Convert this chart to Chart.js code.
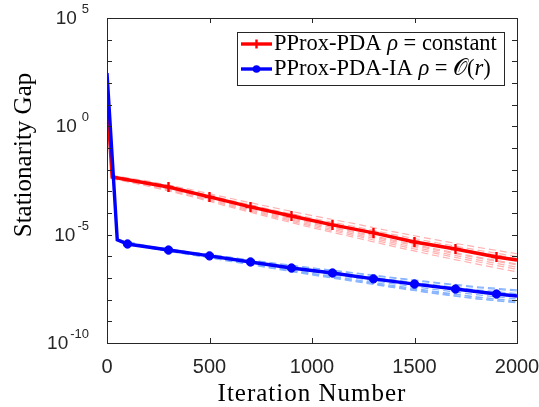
<!DOCTYPE html>
<html>
<head>
<meta charset="utf-8">
<script src="https://cdn.jsdelivr.net/npm/chart.js@4.4.0/dist/chart.umd.min.js"></script>
<style>
  html, body { margin: 0; padding: 0; background: #fff; }
</style>
</head>
<body>
<canvas id="gapChart" width="539" height="407"></canvas>
<script>
// Values, stored as log10 exponents of the stationarity gap
const redIters = [0, 25, 300, 500, 700, 900, 1100, 1300, 1500, 1700, 1900, 2000];
const redMain = [1.35, -2.34, -2.80, -3.26, -3.72, -4.14, -4.55, -4.92, -5.34, -5.66, -6.03, -6.17];
const redMarks = [0, 0, 1, 1, 1, 1, 1, 1, 1, 1, 1, 0];

const blueIters = [0, 50, 100, 300, 500, 700, 900, 1100, 1300, 1500, 1700, 1900, 2000];
const blueMain = [2.46, -5.24, -5.43, -5.71, -5.98, -6.26, -6.54, -6.77, -7.04, -7.28, -7.51, -7.74, -7.83];
const blueMarks = [0, 0, 1, 1, 1, 1, 1, 1, 1, 1, 1, 1, 0];

// faint dashed individual runs
const redRunIters = [20, 200, 400, 600, 800, 1000, 1200, 1400, 1600, 1800, 2000];
const redRuns = [
  [-2.26, -2.53, -2.90, -3.32, -3.73, -4.12, -4.48, -4.87, -5.23, -5.57, -5.88],
  [-2.29, -2.58, -2.97, -3.41, -3.84, -4.24, -4.61, -5.00, -5.36, -5.70, -6.01],
  [-2.36, -2.69, -3.11, -3.59, -4.05, -4.49, -4.89, -5.31, -5.70, -6.06, -6.40],
  [-2.39, -2.73, -3.17, -3.67, -4.15, -4.61, -5.03, -5.46, -5.86, -6.24, -6.60],
  [-2.33, -2.66, -3.08, -3.55, -4.01, -4.45, -4.85, -5.26, -5.65, -6.02, -6.36],
  [-2.41, -2.76, -3.21, -3.72, -4.21, -4.68, -5.11, -5.55, -5.96, -6.35, -6.72],
  [-2.30, -2.61, -3.01, -3.46, -3.90, -4.31, -4.69, -5.08, -5.45, -5.79, -6.10],
  [-2.37, -2.71, -3.14, -3.63, -4.10, -4.55, -4.96, -5.38, -5.78, -6.15, -6.50]
];
const blueRunIters = [50, 200, 400, 600, 800, 1000, 1200, 1400, 1600, 1800, 2000];
const blueRuns = [
  [-5.22, -5.54, -5.80, -6.05, -6.31, -6.55, -6.77, -7.01, -7.23, -7.44, -7.60],
  [-5.25, -5.59, -5.89, -6.19, -6.50, -6.79, -7.06, -7.35, -7.62, -7.87, -8.08],
  [-5.24, -5.58, -5.88, -6.18, -6.49, -6.80, -7.10, -7.42, -7.70, -7.95, -8.15],
  [-5.23, -5.56, -5.83, -6.09, -6.36, -6.61, -6.84, -7.09, -7.32, -7.54, -7.72],
  [-5.26, -5.61, -5.92, -6.23, -6.55, -6.86, -7.15, -7.45, -7.72, -7.96, -8.12],
  [-5.24, -5.57, -5.86, -6.15, -6.45, -6.73, -6.99, -7.27, -7.53, -7.77, -7.97],
  [-5.22, -5.53, -5.79, -6.04, -6.29, -6.53, -6.75, -6.98, -7.20, -7.40, -7.55],
  [-5.25, -5.60, -5.90, -6.21, -6.52, -6.83, -7.12, -7.40, -7.65, -7.88, -8.05]
];

const xTicks = [0, 500, 1000, 1500, 2000];
const yDecades = [-10, -9, -8, -7, -6, -5, -4, -3, -2, -1, 0, 1, 2, 3, 4, 5];
const yLabelled = [5, 0, -5, -10];
const legendLabels = [
  [['PProx-PDA ', ''], ['ρ', 'italic '], [' = constant', '']],
  [['PProx-PDA-IA ', ''], ['ρ', 'italic '], [' = ', ''], ['𝒪', ''], ['(', ''], ['r', 'italic '], [')', '']]
];

const SERIF = '"Liberation Serif", "DejaVu Serif", serif';
const SANS = '"Liberation Sans", Arial, sans-serif';
const INK = '#262626';

function toPoints(iters, exps) {
  return iters.map((it, i) => ({ x: it, y: Math.pow(10, exps[i]) }));
}

const datasets = [
  {
    label: 'blue', data: toPoints(blueIters, blueMain),
    borderColor: '#0000ff', backgroundColor: '#0000ff', borderWidth: 3.4,
    pointStyle: 'circle', pointRadius: blueMarks.map(m => m ? 4.2 : 0), pointBorderWidth: 1
  },
  {
    label: 'red', data: toPoints(redIters, redMain),
    borderColor: '#ff0000', backgroundColor: '#ff0000', borderWidth: 3.4,
    pointStyle: 'cross', pointRadius: redMarks.map(m => m ? 5 : 0), pointBorderWidth: 2.4
  }
];
redRuns.forEach(run => datasets.push({
  data: toPoints(redRunIters, run), borderColor: '#ffb0b0',
  borderWidth: 1.2, borderDash: [7, 4], pointRadius: 0
}));
blueRuns.forEach(run => datasets.push({
  data: toPoints(blueRunIters, run), borderColor: '#88b4ff',
  borderWidth: 1.2, borderDash: [7, 4], pointRadius: 0
}));

// MATLAB-style box, inner ticks, labels and legend
const axisDecor = {
  id: 'axisDecor',
  afterDatasetsDraw(chart) {
    const { ctx, chartArea: a, scales: { x, y } } = chart;
    ctx.save();
    ctx.strokeStyle = INK;
    ctx.lineWidth = 1;
    ctx.strokeRect(a.left + 0.5, a.top + 0.5, a.right - a.left, a.bottom - a.top);
    ctx.beginPath();
    yDecades.forEach(e => {
      const py = Math.round(y.getPixelForValue(Math.pow(10, e))) + 0.5;
      ctx.moveTo(a.left, py); ctx.lineTo(a.left + 5, py);
      ctx.moveTo(a.right, py); ctx.lineTo(a.right - 5, py);
    });
    xTicks.forEach(v => {
      const px = Math.round(x.getPixelForValue(v)) + 0.5;
      ctx.moveTo(px, a.bottom); ctx.lineTo(px, a.bottom - 5);
      ctx.moveTo(px, a.top); ctx.lineTo(px, a.top + 5);
    });
    ctx.stroke();

    // tick labels
    ctx.fillStyle = INK;
    ctx.font = '20px ' + SANS;
    ctx.textAlign = 'center';
    ctx.textBaseline = 'alphabetic';
    xTicks.forEach(v => ctx.fillText(String(v), x.getPixelForValue(v), 373));
    ctx.textAlign = 'right';
    yLabelled.forEach(e => {
      const py = y.getPixelForValue(Math.pow(10, e));
      const ex = e < 0 ? '-' + (-e) : String(e);
      ctx.font = '13px ' + SANS;
      const w = ctx.measureText(ex).width;
      ctx.fillText(ex, 89, py - 5);
      ctx.font = '19px ' + SANS;
      ctx.fillText('10', 89 - w - (e < 0 ? 2 : 5), py + 6);
    });

    // axis titles
    ctx.fillStyle = '#000';
    ctx.font = '25px ' + SERIF;
    ctx.textAlign = 'center';
    ctx.letterSpacing = '1px';
    ctx.fillText('Iteration Number', 312, 401);
    ctx.save();
    ctx.translate(31, 155);
    ctx.rotate(-Math.PI / 2);
    ctx.letterSpacing = '0px';
    ctx.fillText('Stationarity Gap', 0, 0);
    ctx.restore();
    ctx.letterSpacing = '0px';

    // legend
    ctx.fillStyle = '#fff';
    ctx.fillRect(237, 32, 267, 53);
    ctx.strokeStyle = INK;
    ctx.lineWidth = 1;
    ctx.strokeRect(237.5, 32.5, 267, 53);
    const rows = [
      { y: 44, color: '#ff0000', style: 'cross' },
      { y: 69, color: '#0000ff', style: 'circle' }
    ];
    rows.forEach((r, i) => {
      ctx.strokeStyle = r.color;
      ctx.fillStyle = r.color;
      ctx.lineWidth = 3.4;
      ctx.beginPath();
      ctx.moveTo(241, r.y); ctx.lineTo(272, r.y);
      ctx.stroke();
      if (r.style === 'cross') {
        ctx.lineWidth = 2.4;
        ctx.beginPath();
        ctx.moveTo(256.5, r.y - 4.5); ctx.lineTo(256.5, r.y + 4.5);
        ctx.stroke();
      } else {
        ctx.beginPath();
        ctx.arc(256.5, r.y, 3.8, 0, Math.PI * 2);
        ctx.fill();
      }
      ctx.fillStyle = '#000';
      ctx.textAlign = 'left';
      let tx = 274;
      legendLabels[i].forEach(([txt, st]) => {
        ctx.font = st + '22.5px ' + SERIF;
        ctx.fillText(txt, tx, r.y + 6);
        tx += ctx.measureText(txt).width;
      });
    });
    ctx.restore();
  }
};

new Chart(document.getElementById('gapChart'), {
  type: 'line',
  data: { datasets: datasets },
  options: {
    responsive: false,
    animation: false,
    layout: { padding: { left: 107, right: 22, top: 18, bottom: 64 } },
    scales: {
      x: { type: 'linear', min: 0, max: 2000, display: false },
      y: { type: 'logarithmic', min: 1e-10, max: 1e5, display: false }
    },
    elements: { line: { tension: 0 } },
    plugins: { legend: { display: false }, tooltip: { enabled: false } }
  },
  plugins: [axisDecor]
});
</script>
</body>
</html>
